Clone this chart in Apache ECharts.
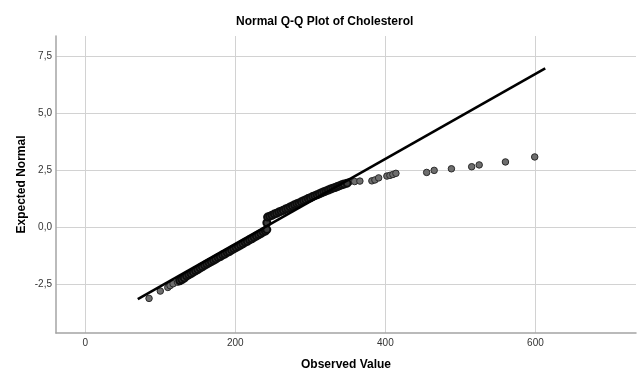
<!DOCTYPE html>
<html>
<head>
<meta charset="utf-8">
<script src="https://cdn.jsdelivr.net/npm/echarts@6/dist/echarts.min.js"></script>
<style>
html,body{margin:0;padding:0;background:#fff;}
#chart{width:641px;height:370px;}
</style>
</head>
<body>
<div id="chart"></div>
<script>
const observedValues = [
  85,100,110,113,117,123,126,129,132,135,138,141,144,147,150,153,156,159,162,165,
  168,171,174,177,180,183,186,189,192,195,198,201,204,207,210,213,216,219,222,225,
  228,231,234,237,240,242,242,
  243,246,249,252,255,258,261,264,267,270,273,276,279,282,285,288,291,294,297,300,
  303,306,309,312,315,318,321,324,327,330,333,336,339,342,345,349,
  352,359,366,382,386,391,402,406,410,414,455,465,488,515,525,560,599
];
const expectedNormal = [
  -3.14,-2.82,-2.66,-2.58,-2.50,-2.43,-2.37,-2.31,-2.25,-2.16,-2.10,-2.05,-1.99,-1.93,-1.87,-1.81,-1.75,-1.69,-1.63,-1.58,
  -1.52,-1.47,-1.41,-1.35,-1.30,-1.24,-1.19,-1.13,-1.08,-1.02,-0.96,-0.91,-0.85,-0.80,-0.74,-0.68,-0.63,-0.57,-0.52,-0.46,
  -0.40,-0.35,-0.29,-0.23,-0.18,-0.12,0.18,
  0.43,0.47,0.51,0.56,0.60,0.65,0.69,0.73,0.78,0.82,0.87,0.92,0.97,1.01,1.05,1.10,1.15,1.19,1.24,1.28,
  1.33,1.37,1.41,1.45,1.50,1.54,1.58,1.62,1.66,1.70,1.73,1.77,1.81,1.85,1.88,1.92,
  1.98,1.99,2.01,2.02,2.06,2.15,2.23,2.26,2.30,2.35,2.39,2.48,2.55,2.64,2.72,2.85,3.07
];
// Reference (fit) line end points
const fitLineX = [70, 613];
const fitLineY = [-3.17, 6.96];
// Tick labels
const xTicks = [0, 200, 400, 600];
const yTicks = [-2.5, 0, 2.5, 5, 7.5];
const xRange = [-39, 734];
const yRange = [-4.66, 8.38];

const FONT = 'Liberation Sans, Arial, sans-serif';
const allPoints = observedValues.map((v, i) => [v, expectedNormal[i]]);
// dense (heavily overplotted) stretch vs. separated points, only for styling
const densePoints = allPoints.filter(p => p[0] >= 126 && p[0] <= 349);
const sparsePoints = allPoints.filter(p => p[0] < 126 || p[0] > 349);
const fitLine = fitLineX.map((v, i) => [v, fitLineY[i]]);

const chart = echarts.init(document.getElementById('chart'), null, {renderer: 'canvas'});
chart.setOption({
  animation: false,
  backgroundColor: '#ffffff',
  title: {
    text: 'Normal Q-Q Plot of Cholesterol',
    left: 231,
    top: 11,
    textStyle: {fontFamily: FONT, fontSize: 12, fontWeight: 'bold', color: '#000'}
  },
  grid: {left: 56, right: 5, top: 36, bottom: 37, containLabel: false, outerBoundsMode: 'none'},
  xAxis: {
    type: 'value',
    min: xRange[0], max: xRange[1],
    name: 'Observed Value',
    nameLocation: 'middle',
    nameGap: 26,
    nameTextStyle: {fontFamily: FONT, fontSize: 12, fontWeight: 'bold', color: '#000'},
    axisLine: {show: true, onZero: false, lineStyle: {color: '#a4a4a4', width: 1.5}},
    axisTick: {show: false, customValues: xTicks},
    axisLabel: {customValues: xTicks, fontFamily: FONT, fontSize: 10, color: '#333', margin: 5,
      formatter: v => String(v)},
    splitLine: {show: true, customValues: xTicks, lineStyle: {color: '#d2d2d2', width: 1}}
  },
  yAxis: {
    type: 'value',
    min: yRange[0], max: yRange[1],
    name: 'Expected Normal',
    nameLocation: 'middle',
    nameGap: 28,
    nameMoveOverlap: false,
    nameTextStyle: {fontFamily: FONT, fontSize: 12, fontWeight: 'bold', color: '#000'},
    axisLine: {show: true, onZero: false, lineStyle: {color: '#a4a4a4', width: 1.5}},
    axisTick: {show: false, customValues: yTicks},
    axisLabel: {customValues: yTicks, fontFamily: FONT, fontSize: 10, color: '#333', margin: 4,
      formatter: v => v.toFixed(1).replace('.', ',')},
    splitLine: {show: true, customValues: yTicks, lineStyle: {color: '#d2d2d2', width: 1}}
  },
  series: [
    {
      type: 'scatter',
      data: sparsePoints,
      symbol: 'circle',
      symbolSize: 6.5,
      itemStyle: {color: '#6e6e6e', borderColor: '#2a2a2a', borderWidth: 1, opacity: 1},
      z: 2,
      silent: true
    },
    {
      type: 'scatter',
      data: densePoints,
      symbol: 'circle',
      symbolSize: 7,
      itemStyle: {color: '#3c3c3c', borderColor: '#0d0d0d', borderWidth: 2, opacity: 1},
      z: 2,
      silent: true
    },
    {
      type: 'line',
      data: fitLine,
      symbol: 'none',
      lineStyle: {color: '#000', width: 2.6},
      z: 3,
      silent: true
    }
  ]
});
</script>
</body>
</html>
